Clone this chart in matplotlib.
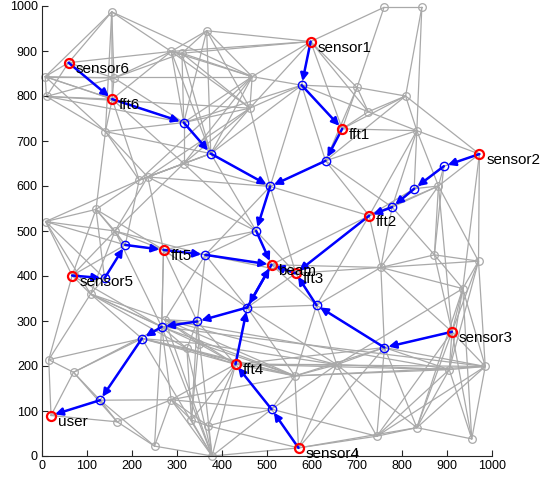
import matplotlib
matplotlib.use("Agg")
import matplotlib.pyplot as plt

plt.rcParams['font.family'] = ['Liberation Sans', 'DejaVu Sans']

# ---- node coordinates (x, y) ----
node_x = [597, 972, 911, 570, 67, 59, 667, 727, 564, 430, 270, 156, 510, 20,      # 0-13 labelled
          315, 375, 507, 476, 577, 630, 893, 827, 778, 761, 610, 510, 456, 345, 266, 222, 129, 139, 185, 363,  # 14-33 relay
          155, 7, 10, 141, 287, 311, 366, 467, 462, 216, 235, 315, 120, 8, 162,   # 34-48
          760, 844, 700, 808, 725, 833, 881, 108, 15, 70, 167, 250, 378, 287,     # 49-62
          332, 369, 322, 348, 562, 655, 753, 872, 970, 935, 985, 905, 833, 744,   # 63-76
          955, 273, 160]                                                          # 77-79
node_y = [921, 671, 276, 18, 401, 874, 727, 534, 406, 204, 458, 793, 425, 90,
          741, 672, 599, 500, 824, 656, 644, 594, 553, 241, 335, 104, 330, 299, 287, 261, 124, 395, 469, 447,
          987, 843, 799, 721, 899, 895, 945, 843, 773, 613, 620, 650, 548, 521, 500,
          997, 997, 819, 800, 765, 723, 600, 360, 214, 186, 76, 22, 0, 125,
          80, 67, 239, 250, 178, 203, 419, 447, 433, 372, 199, 192, 63, 44,
          38, 303, 840]

labels = ['sensor1', 'sensor2', 'sensor3', 'sensor4', 'sensor5', 'sensor6',
          'fft1', 'fft2', 'fft3', 'fft4', 'fft5', 'fft6', 'beam', 'user']
label_nodes = list(range(14))

relay_nodes = list(range(14, 34))
gray_nodes = list(range(34, 80))

# ---- network links (index pairs) ----
gray_edges = [
    (34, 35), (34, 5), (34, 11), (34, 38), (34, 41), (34, 79), (34, 37),
    (35, 36), (35, 5), (35, 11), (35, 79), (35, 41), (35, 14), (35, 37),
    (36, 11), (36, 14), (36, 5), (36, 79), (36, 42), (36, 37),
    (5, 79), (5, 38), (79, 11), (79, 38), (79, 14), (79, 39),
    (11, 37), (11, 43), (11, 45), (37, 43), (37, 44), (37, 46), (37, 14), (37, 15),
    (38, 39), (38, 41), (38, 42), (38, 40), (38, 14), (38, 15), (38, 11),
    (39, 41), (39, 42), (39, 40), (39, 14), (39, 15),
    (40, 41), (40, 42), (40, 15), (40, 0), (40, 14),
    (41, 0), (42, 0), (41, 18), (42, 18), (41, 14), (42, 14), (41, 15), (42, 15),
    (41, 45), (42, 45), (41, 43), (42, 44), (41, 42), (42, 16),
    (45, 43), (45, 44), (45, 15), (45, 14), (45, 16), (45, 48),
    (43, 44), (43, 46), (44, 48), (43, 32), (44, 10), (43, 47), (44, 15), (44, 16),
    (47, 46), (47, 48), (47, 4), (47, 56), (47, 31), (47, 32),
    (46, 48), (46, 31), (46, 32), (46, 10), (46, 4),
    (48, 32), (48, 4), (48, 10), (48, 56), (48, 28), (48, 33),
    (4, 56), (4, 31), (4, 57), (4, 28), (4, 32),
    (56, 31), (56, 28), (56, 29), (56, 57), (56, 66), (56, 65), (56, 78),
    (57, 58), (57, 13), (57, 29), (58, 30), (58, 29), (58, 13), (58, 59), (58, 28),
    (30, 59), (30, 13), (30, 62), (30, 29), (30, 60), (59, 60), (59, 13), (59, 62),
    (60, 61), (60, 62), (60, 28), (61, 3), (61, 62), (61, 63), (61, 64), (61, 9),
    (61, 28), (61, 29), (61, 27), (61, 25), (61, 65), (61, 78),
    (62, 63), (62, 28), (62, 25), (62, 9), (62, 67), (62, 64),
    (63, 64), (63, 9), (64, 9), (64, 25), (63, 27), (64, 3), (63, 66),
    (78, 67), (78, 68), (28, 67), (78, 9), (28, 65), (78, 66), (29, 9), (29, 66),
    (78, 74), (28, 73), (29, 67), (78, 27), (78, 33), (28, 10), (29, 65),
    (65, 9), (65, 27), (65, 63), (66, 9), (66, 27), (66, 67), (65, 67), (66, 68),
    (10, 33), (10, 32), (10, 17), (10, 28), (10, 27), (10, 26),
    (33, 17), (33, 12), (33, 26), (33, 27), (33, 16), (33, 8),
    (17, 16), (17, 12), (17, 8), (17, 15), (17, 45), (17, 44),
    (12, 8), (12, 26), (12, 24), (12, 69), (8, 24), (8, 69), (8, 26), (8, 7),
    (26, 27), (26, 9), (26, 24), (26, 67), (26, 68), (27, 28), (27, 9),
    (24, 69), (24, 68), (24, 67), (24, 23), (24, 7),
    (67, 68), (67, 25), (67, 3), (67, 9), (67, 23), (67, 74), (67, 73),
    (68, 23), (68, 75), (68, 76), (68, 25), (68, 3), (68, 9), (68, 74), (68, 72),
    (25, 3), (25, 9), (25, 76), (9, 23), (9, 74), (9, 73),
    (69, 70), (69, 22), (69, 7), (69, 23), (69, 72), (69, 71), (69, 2),
    (70, 71), (70, 72), (70, 2), (70, 55), (70, 22), (70, 20),
    (71, 72), (71, 2), (71, 55), (71, 73), (71, 74), (71, 1),
    (72, 2), (72, 73), (72, 74), (72, 75), (72, 77), (72, 1),
    (73, 74), (73, 2), (73, 75), (73, 77), (73, 76), (73, 23),
    (74, 75), (74, 23), (74, 77), (74, 76), (74, 2),
    (75, 76), (75, 77), (75, 23), (75, 3), (76, 23), (76, 3), (76, 2),
    (23, 2), (23, 3), (2, 75), (2, 77),
    (0, 18), (0, 49), (0, 6), (0, 53), (0, 51), (0, 39), (0, 38),
    (49, 50), (49, 51), (50, 52), (50, 54), (51, 52), (51, 53), (51, 6), (51, 18),
    (51, 19), (52, 53), (52, 54), (52, 6), (52, 1), (52, 19),
    (53, 6), (53, 18), (53, 54), (54, 1), (54, 6), (54, 55), (54, 21), (54, 22),
    (54, 7), (54, 19), (55, 1), (55, 20), (55, 21), (55, 22), (55, 7), (55, 69), (55, 2),
    (1, 20), (18, 15), (18, 14), (18, 16), (18, 19), (18, 6),
    (19, 16), (19, 7), (19, 22), (19, 6), (16, 15), (16, 7), (16, 8),
    (7, 22), (7, 12), (7, 21), (20, 21), (21, 22), (20, 22), (15, 14), (15, 43),
]

# ---- routed flows (from, to) ----
flow_edges = [
    (5, 11), (11, 14), (14, 15), (15, 16), (16, 17), (17, 12),
    (0, 18), (18, 6), (6, 19), (19, 16),
    (1, 20), (20, 21), (21, 22), (22, 7), (7, 8),
    (2, 23), (23, 24), (24, 8), (8, 12),
    (3, 25), (25, 9), (9, 26), (26, 12),
    (4, 31), (31, 32), (32, 10), (10, 33), (33, 12),
    (12, 26), (26, 27), (27, 28), (28, 29), (29, 30), (30, 13),
]

fig = plt.figure(figsize=(5.54, 4.79), dpi=100)
ax = fig.add_axes([42 / 554, 23 / 479, 450 / 554, 450 / 479])

gray = '#a9a9a9'
for a, b in gray_edges:
    ax.plot([node_x[a], node_x[b]], [node_y[a], node_y[b]], color=gray, lw=0.9,
            zorder=1, solid_capstyle='round')
ax.plot([node_x[i] for i in gray_nodes], [node_y[i] for i in gray_nodes], 'o',
        ms=5.5, mfc='none', mec=gray, mew=0.9, zorder=2, clip_on=False)

for a, b in flow_edges:
    ax.annotate('', xy=(node_x[b], node_y[b]), xytext=(node_x[a], node_y[a]),
                arrowprops=dict(arrowstyle='-|>', color='blue', lw=1.8,
                                mutation_scale=11, shrinkA=0, shrinkB=3),
                zorder=3)

ax.plot([node_x[i] for i in relay_nodes], [node_y[i] for i in relay_nodes], 'o',
        ms=6, mfc='none', mec='blue', mew=1.0, zorder=4)
ax.plot([node_x[i] for i in label_nodes], [node_y[i] for i in label_nodes], 'o',
        ms=6.5, mfc='none', mec='red', mew=1.6, zorder=5, clip_on=False)

for name, i in zip(labels, label_nodes):
    ax.annotate(name, xy=(node_x[i], node_y[i]), xytext=(7, -6),
                textcoords='offset pixels', fontsize=11, va='center', ha='left',
                color='black', zorder=6)

ax.set_xlim(0, 1000)
ax.set_ylim(0, 1000)
ax.set_xticks(range(0, 1001, 100))
ax.set_yticks(range(0, 1001, 100))
ax.tick_params(direction='in', length=4, width=0.8, labelsize=9, pad=3, colors='#262626')
ax.tick_params(labelcolor='black')
for s in ['top', 'right']:
    ax.spines[s].set_visible(False)
for s in ['left', 'bottom']:
    ax.spines[s].set_color('#262626')
    ax.spines[s].set_linewidth(0.8)

fig.savefig('out.png', dpi=100)
